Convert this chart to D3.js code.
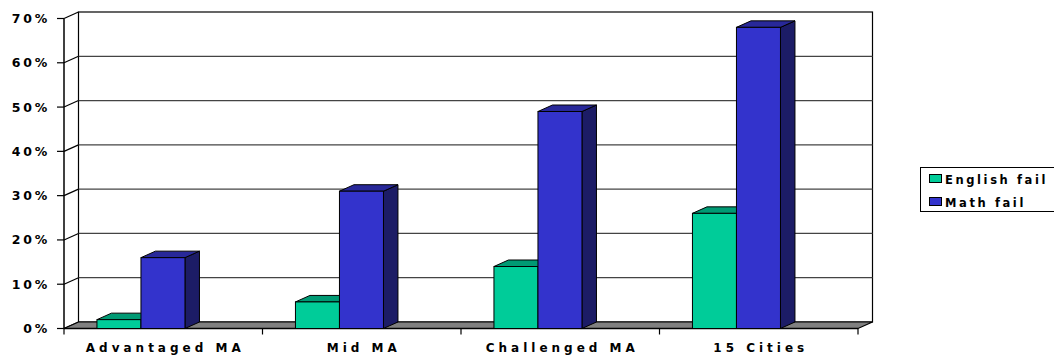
<!DOCTYPE html>
<html>
<head>
<meta charset="utf-8">
<script src="https://cdn.jsdelivr.net/npm/d3@7"></script>
<style>
  html, body { margin: 0; padding: 0; background: #fff; }
  svg { display: block; }
  text { font-family: "DejaVu Sans", sans-serif; font-weight: bold; fill: #000; }
</style>
</head>
<body>
<svg id="chart" width="1054" height="356"></svg>
<script>
const categories = ["Advantaged MA", "Mid MA", "Challenged MA", "15 Cities"];
const englishFail = [2, 6, 14, 26];
const mathFail = [16, 31, 49, 68];
const yTickValues = [0, 10, 20, 30, 40, 50, 60, 70];
const yTickLabels = ["0%", "10%", "20%", "30%", "40%", "50%", "60%", "70%"];
const seriesNames = ["English fail", "Math fail"];

const colors = {
  english: { front: "#00cc99", top: "#009a74", side: "#00664d" },
  math: { front: "#3333cc", top: "#282899", side: "#1c1c66" }
};

const svg = d3.select("#chart");

// 3D geometry
const left = 64, right = 858;
const dx = 14.5, dy = -6.5;

const x = d3.scaleBand().domain(categories).range([left, right]).paddingInner(0).paddingOuter(0);
const y = d3.scaleLinear().domain([0, 70]).range([328.5, 18.5]);
const y0 = y(0);

// back wall
const wall = svg.append("g");
wall.append("rect")
  .attr("x", left + dx).attr("y", y(70) + dy)
  .attr("width", right - left).attr("height", y0 - y(70))
  .attr("fill", "#fff").attr("stroke", "#000").attr("stroke-width", 1.2);

wall.selectAll("line.grid")
  .data(yTickValues.filter(v => v > 0 && v < 70))
  .join("line")
  .attr("class", "grid")
  .attr("x1", left + dx).attr("x2", right + dx)
  .attr("y1", d => y(d) + dy).attr("y2", d => y(d) + dy)
  .attr("stroke", "#444").attr("stroke-width", 1.2);

wall.selectAll("line.diag")
  .data(yTickValues)
  .join("line")
  .attr("class", "diag")
  .attr("x1", left).attr("x2", left + dx)
  .attr("y1", d => y(d)).attr("y2", d => y(d) + dy)
  .attr("stroke", "#000").attr("stroke-width", 1.2);

// floor
const floorPts = [[left, y0], [right, y0], [right + dx, y0 + dy], [left + dx, y0 + dy]];
svg.append("polygon")
  .attr("points", floorPts.map(p => p.join(",")).join(" "))
  .attr("fill", "#808080").attr("stroke", "#000").attr("stroke-width", 1.2);

// front left axis
const axisG = svg.append("g");
axisG.append("line")
  .attr("x1", left).attr("x2", left).attr("y1", y(70)).attr("y2", y0)
  .attr("stroke", "#000").attr("stroke-width", 1.5);
axisG.selectAll("line.ytick")
  .data(yTickValues)
  .join("line")
  .attr("class", "ytick")
  .attr("x1", left - 7).attr("x2", left)
  .attr("y1", d => y(d)).attr("y2", d => y(d))
  .attr("stroke", "#000").attr("stroke-width", 1.2);
axisG.selectAll("text.ylab")
  .data(yTickValues)
  .join("text")
  .attr("class", "ylab")
  .attr("x", 50)
  .attr("y", d => y(d) + 4.5)
  .attr("text-anchor", "end")
  .attr("font-size", 12.5)
  .attr("letter-spacing", 2.8)
  .text((d, i) => yTickLabels[i]);

// front bottom axis
axisG.append("line")
  .attr("x1", left).attr("x2", right).attr("y1", y0).attr("y2", y0)
  .attr("stroke", "#000").attr("stroke-width", 1.5);
const catTicks = categories.map(c => x(c)).concat([right]);
axisG.selectAll("line.xtick")
  .data(catTicks)
  .join("line")
  .attr("class", "xtick")
  .attr("x1", d => d).attr("x2", d => d)
  .attr("y1", y0).attr("y2", y0 + 6)
  .attr("stroke", "#000").attr("stroke-width", 1.2);
axisG.selectAll("text.xlab")
  .data(categories)
  .join("text")
  .attr("class", "xlab")
  .attr("x", d => x(d) + x.bandwidth() / 2 + 2)
  .attr("y", 352)
  .attr("text-anchor", "middle")
  .attr("font-size", 12)
  .attr("letter-spacing", 4)
  .text(d => d);

// bars
const bw = x.bandwidth();
const barOffset = bw * 0.166, barW = bw * 0.2217;

function drawBar(g, xPos, value, col) {
  const yv = y(value);
  const w = barW;
  g.append("polygon")
    .attr("points", [[xPos + w, yv], [xPos + w + dx, yv + dy], [xPos + w + dx, y0 + dy], [xPos + w, y0]].map(p => p.join(",")).join(" "))
    .attr("fill", col.side).attr("stroke", "#000").attr("stroke-width", 1).attr("stroke-linejoin", "round");
  g.append("polygon")
    .attr("points", [[xPos, yv], [xPos + dx, yv + dy], [xPos + w + dx, yv + dy], [xPos + w, yv]].map(p => p.join(",")).join(" "))
    .attr("fill", col.top).attr("stroke", "#000").attr("stroke-width", 1).attr("stroke-linejoin", "round");
  g.append("rect")
    .attr("x", xPos).attr("y", yv).attr("width", w).attr("height", y0 - yv)
    .attr("fill", col.front).attr("stroke", "#000").attr("stroke-width", 1);
}

const barsG = svg.append("g");
categories.forEach((c, i) => {
  const g = barsG.append("g");
  const xs = x(c) + barOffset;
  drawBar(g, xs, englishFail[i], colors.english);
  drawBar(g, xs + barW, mathFail[i], colors.math);
});

// legend
const leg = svg.append("g");
leg.append("rect")
  .attr("x", 920.5).attr("y", 167.5).attr("width", 145).attr("height", 44)
  .attr("fill", "#fff").attr("stroke", "#000").attr("stroke-width", 1);
const legCols = [colors.english.front, colors.math.front];
seriesNames.forEach((name, i) => {
  const yy = 179 + i * 23;
  leg.append("rect")
    .attr("x", 929.5).attr("y", yy - 4.5).attr("width", 12).attr("height", 8)
    .attr("fill", legCols[i]).attr("stroke", "#000").attr("stroke-width", 1);
  leg.append("text")
    .attr("x", 945).attr("y", yy + 4.5)
    .attr("font-size", 11.5)
    .attr("letter-spacing", 2.6)
    .text(name);
});
</script>
</body>
</html>
